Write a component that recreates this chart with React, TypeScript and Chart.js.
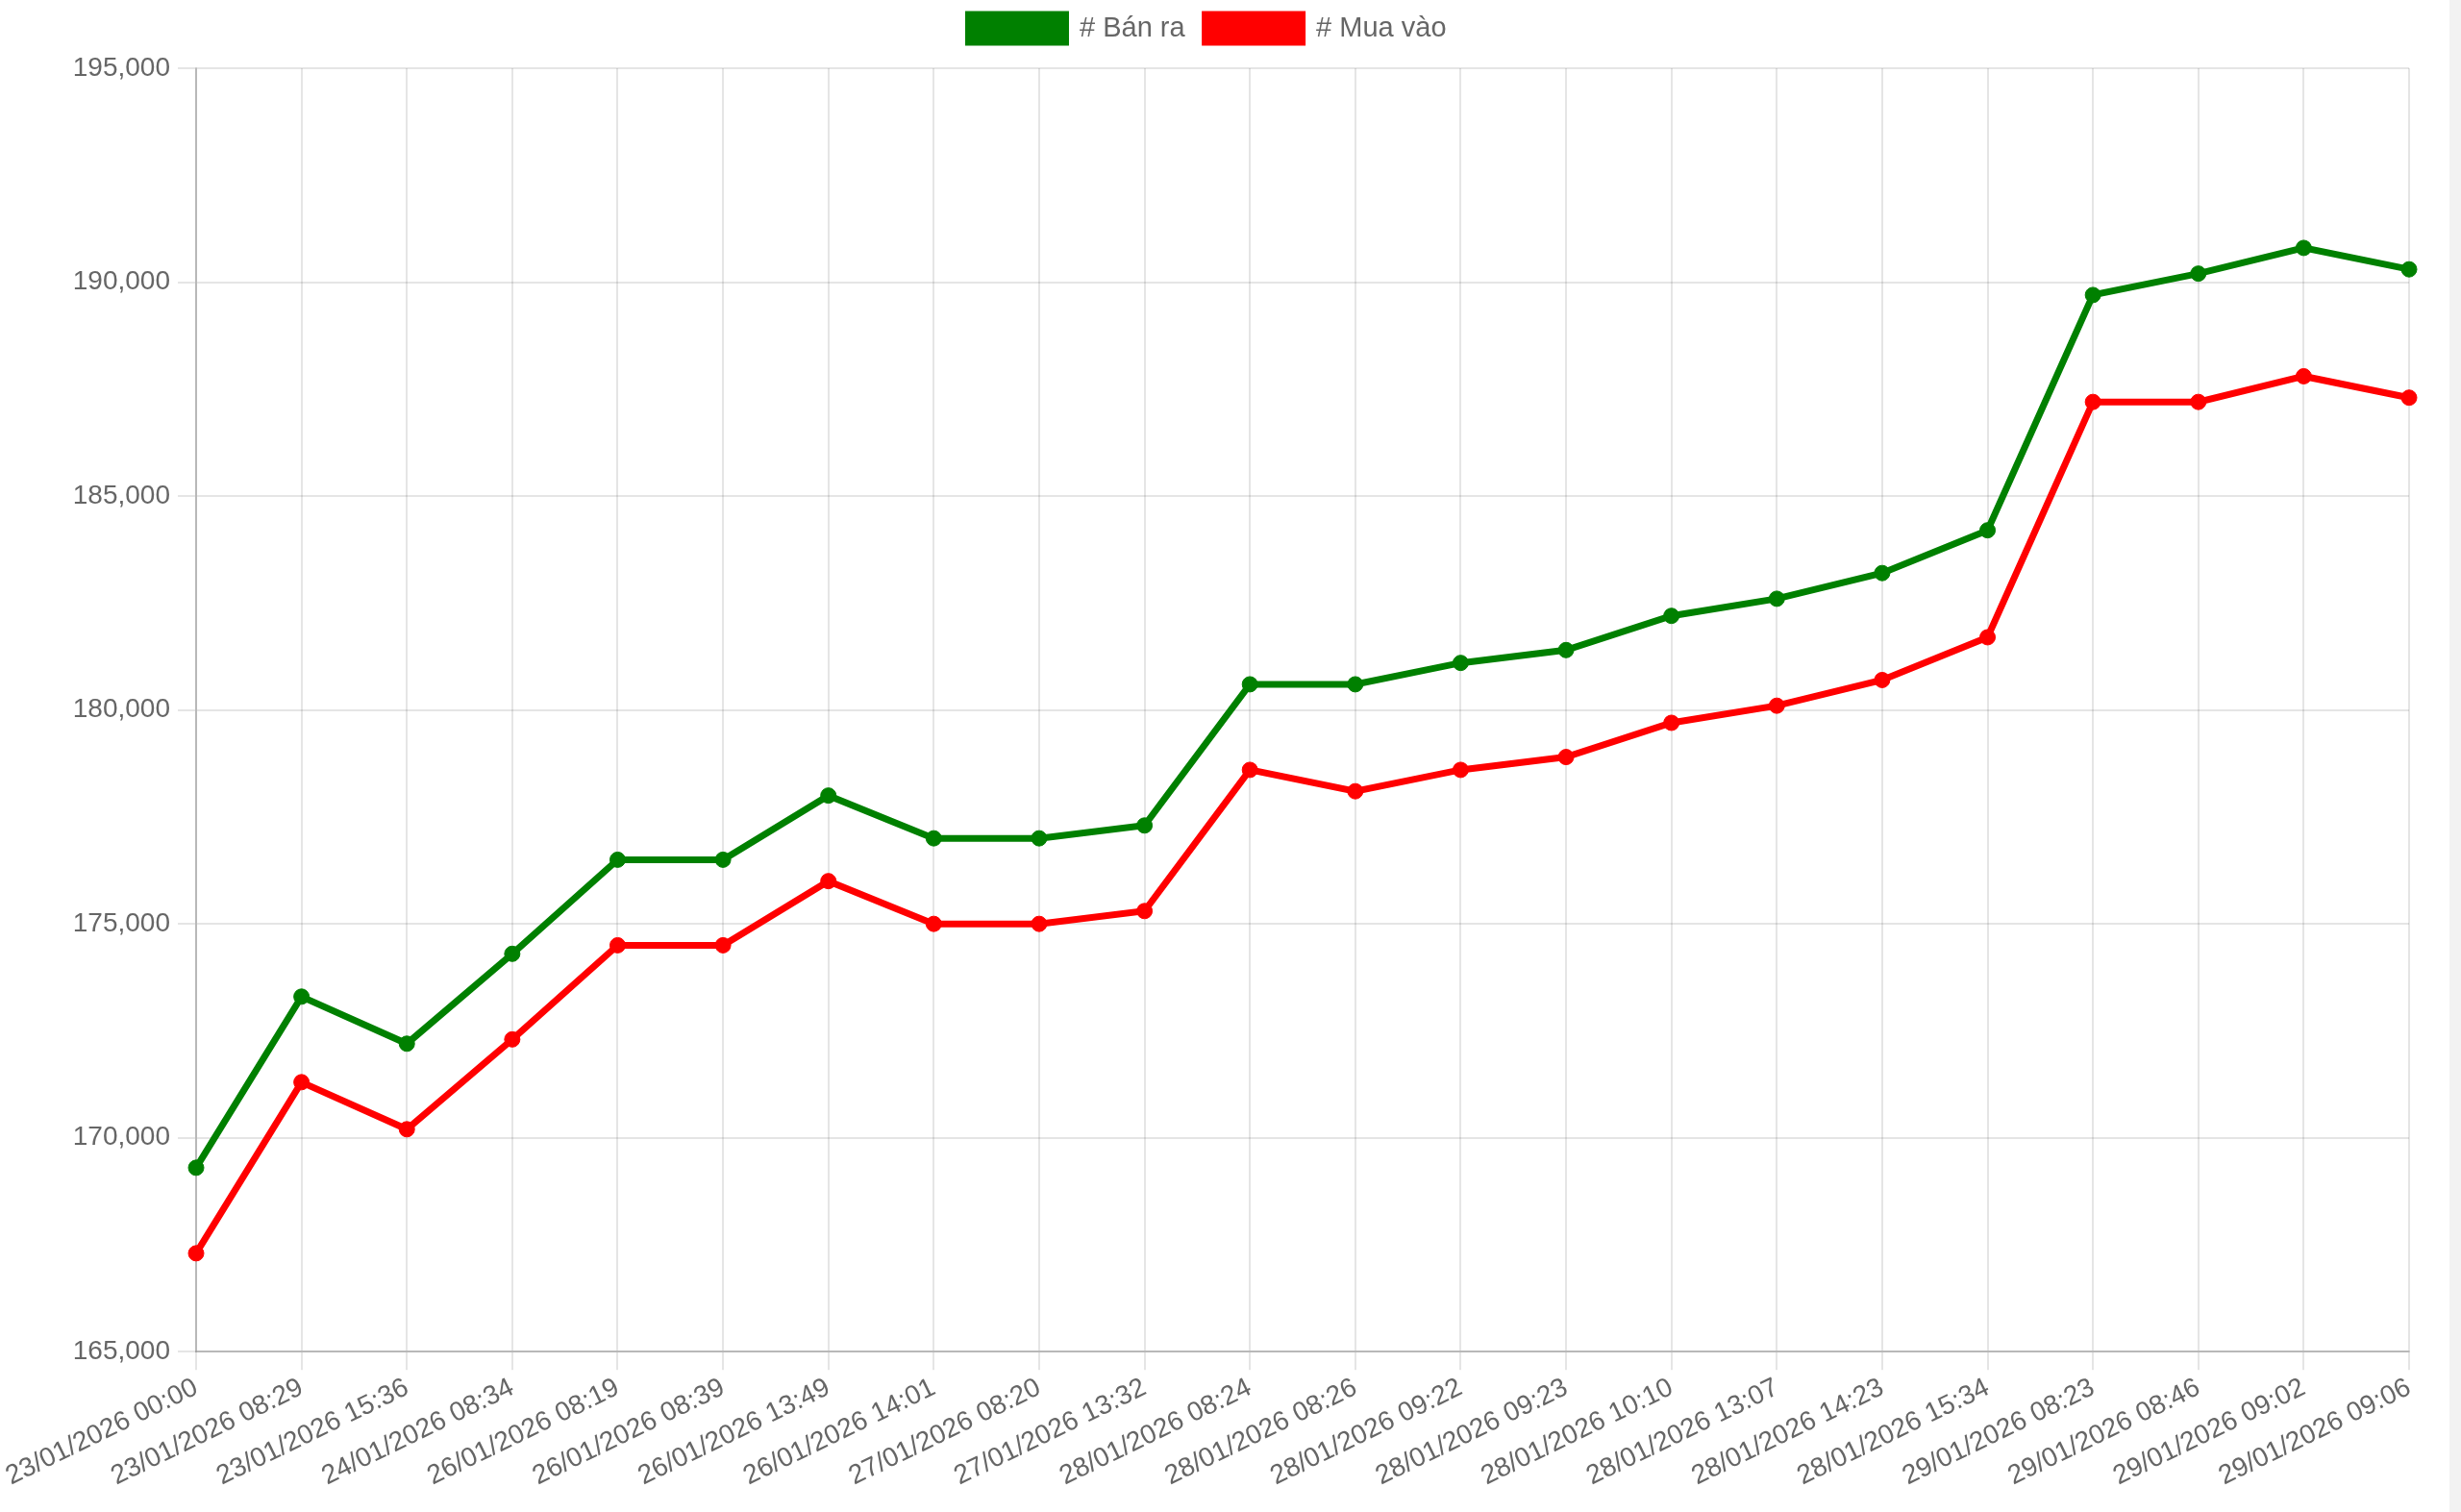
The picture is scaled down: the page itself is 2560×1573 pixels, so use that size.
import React, { useEffect, useRef } from "react";
import { Chart, registerables } from "chart.js";

Chart.register(...registerables);

const categories = [
  "23/01/2026 00:00",
  "23/01/2026 08:29",
  "23/01/2026 15:36",
  "24/01/2026 08:34",
  "26/01/2026 08:19",
  "26/01/2026 08:39",
  "26/01/2026 13:49",
  "26/01/2026 14:01",
  "27/01/2026 08:20",
  "27/01/2026 13:32",
  "28/01/2026 08:24",
  "28/01/2026 08:26",
  "28/01/2026 09:22",
  "28/01/2026 09:23",
  "28/01/2026 10:10",
  "28/01/2026 13:07",
  "28/01/2026 14:23",
  "28/01/2026 15:34",
  "29/01/2026 08:23",
  "29/01/2026 08:46",
  "29/01/2026 09:02",
  "29/01/2026 09:06",
];

const banRa = [
  169300, 173300, 172200, 174300, 176500, 176500, 178000, 177000, 177000, 177300,
  180600, 180600, 181100, 181400, 182200, 182600, 183200, 184200, 189700, 190200,
  190800, 190300,
];

const muaVao = [
  167300, 171300, 170200, 172300, 174500, 174500, 176000, 175000, 175000, 175300,
  178600, 178100, 178600, 178900, 179700, 180100, 180700, 181700, 187200, 187200,
  187800, 187300,
];

const yTicks = { min: 165000, max: 195000, step: 5000 };

const FONT = "'Liberation Sans', Arial, Helvetica, sans-serif";

const legendSpacing = {
  id: "legendSpacing",
  beforeInit(chart: any) {
    const legend = chart.legend;
    if (!legend) return;
    const origFit = legend.fit;
    legend.fit = function fit() {
      origFit.bind(this)();
      this.height += 17;
    };
  },
};

export default function App() {
  const ref = useRef<HTMLCanvasElement | null>(null);

  useEffect(() => {
    document.body.style.margin = "0";
    const canvas = ref.current;
    if (!canvas) return;
    const mk = (label: string, data: number[], color: string) => ({
      label,
      data,
      borderColor: color,
      backgroundColor: color,
      pointBackgroundColor: color,
      pointBorderColor: color,
      borderWidth: 7,
      pointRadius: 8,
      pointBorderWidth: 1,
      tension: 0,
      fill: false,
    });
    const chart = new Chart(canvas, {
      type: "line",
      data: {
        labels: categories,
        datasets: [mk("# Bán ra", banRa, "#008000"), mk("# Mua vào", muaVao, "#ff0000")],
      },
      plugins: [legendSpacing],
      options: {
        responsive: false,
        animation: false,
        devicePixelRatio: 1,
        layout: { padding: { top: -6, right: 42, left: 6, bottom: 18 } },
        plugins: {
          legend: {
            display: true,
            position: "top",
            labels: {
              boxWidth: 101,
              boxHeight: 29,
              padding: 21,
              color: "#666666",
              font: { family: FONT, size: 29 },
            },
          },
          tooltip: { enabled: false },
        },
        scales: {
          x: {
            offset: false,
            grid: {
              color: "rgba(0,0,0,0.1)",
              lineWidth: 2,
              tickLength: 19,
              drawTicks: true,
            },
            border: { color: "rgba(0,0,0,0.2)", width: 2 },
            ticks: {
              color: "#666666",
              font: { family: FONT, size: 28 },
              minRotation: 26,
              maxRotation: 26,
              autoSkip: false,
              padding: 2,
            },
          },
          y: {
            min: yTicks.min,
            max: yTicks.max,
            afterFit: (scale: any) => {
              scale.width = 198;
            },
            grid: {
              color: "rgba(0,0,0,0.1)",
              lineWidth: 2,
              tickLength: 19,
            },
            border: { color: "rgba(0,0,0,0.2)", width: 2 },
            ticks: {
              stepSize: yTicks.step,
              color: "#666666",
              font: { family: FONT, size: 28 },
              padding: 8,
              callback: (v: any) => Number(v).toLocaleString("en-US"),
            },
          },
        },
      },
    });
    return () => chart.destroy();
  }, []);

  return (
    <div style={{ position: "absolute", left: 0, top: 0, width: 2560, height: 1573, overflow: "hidden", background: "#fff" }}>
      <canvas ref={ref} width={2548} height={1573} style={{ position: "absolute", left: 0, top: 0, width: 2548, height: 1573 }} />
      <div style={{ position: "absolute", right: 0, top: 0, width: 12, height: 1573, background: "#f2f2f2" }} />
    </div>
  );
}
